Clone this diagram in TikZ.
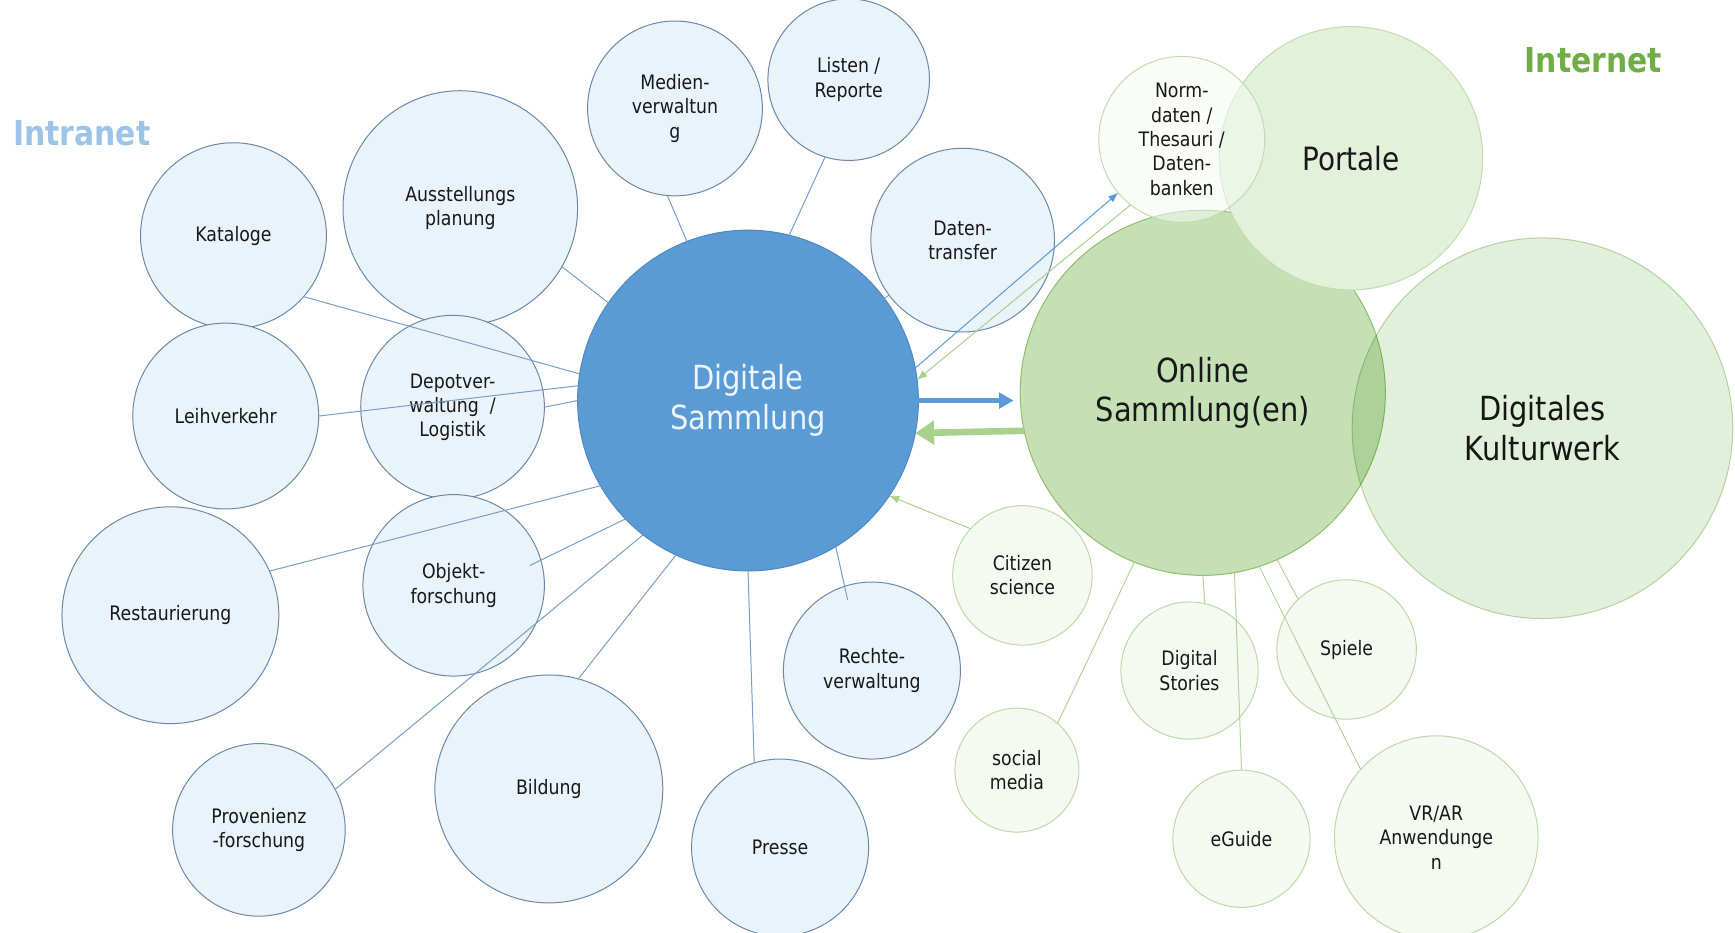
\documentclass[tikz,border=0pt]{standalone}
\usepackage{fontspec}
\setmainfont[FakeStretch=0.87]{DejaVu Sans}
\usetikzlibrary{arrows.meta}

\definecolor{bluefill}{HTML}{EAF2FA}
\definecolor{bluedraw}{HTML}{6A89AA}
\definecolor{bluelink}{HTML}{7A9DC4}
\definecolor{digfill}{HTML}{5B9BD5}
\definecolor{digdraw}{HTML}{4F89BE}
\definecolor{digtext}{HTML}{EEF4FB}
\definecolor{onlfill}{HTML}{C5E0B4}
\definecolor{onldraw}{HTML}{8FBF6E}
\definecolor{porfill}{HTML}{E3F0DA}
\definecolor{pordraw}{HTML}{C2DBB0}
\definecolor{norfill}{HTML}{F6FAF3}
\definecolor{kulfill}{HTML}{E2EFDA}
\definecolor{greenfill}{HTML}{F4F9F1}
\definecolor{greendraw}{HTML}{BDD9A8}
\definecolor{greenlink}{HTML}{B5D49C}
\definecolor{greenarrow}{HTML}{A9D18E}
\definecolor{intranet}{HTML}{9DC3E6}
\definecolor{internet}{HTML}{70AD47}

\begin{document}
\begin{tikzpicture}[x=1pt, y=-1pt,
	bubble/.style={circle, draw=bluedraw, fill=bluefill, line width=0.9pt, inner sep=0pt, outer sep=0pt, align=center, text=black!90, font=\fontsize{18}{22}\selectfont},
	gbubble/.style={bubble, draw=greendraw, fill=greenfill},
	bigbubble/.style={bubble, font=\fontsize{30}{36}\selectfont},
	heading/.style={font=\fontsize{31}{37}\selectfont\bfseries},
	link/.style={bluelink, line width=0.9pt},
	glink/.style={greenlink, line width=0.9pt}]

\useasboundingbox (0,0) rectangle (1568,843);

\node[heading, text=intranet] (intra) at (74,120) {Intranet};
\node[heading, text=internet] (inter) at (1440,54) {Internet};

% intranet
\foreach \n/\x/\y/\d/\t in {
	kat/211/213/168/{Kataloge},
	aus/416/188/212/{Ausstellungs\\planung},
	med/610/98/158/{Medien-\\verwaltun\\g},
	lis/767/72/146/{Listen /\\Reporte},
	dat/870/217/166/{Daten-\\transfer},
	lei/204/376/168/{Leihverkehr},
	dep/409/368/166/{Depotver-\\waltung\ \ /\\Logistik},
	res/154/556/196/{Restaurierung},
	obj/410/529/164/{Objekt-\\forschung},
	pro/234/750/156/{Provenienz\\-forschung},
	bil/496/713/206/{Bildung},
	pre/705/766/160/{Presse},
	rec/788/606/160/{Rechte-\\verwaltung}}
	\node[bubble, minimum size=\d] (\n) at (\x,\y) {\t};

\node[bigbubble, fill=digfill, draw=digdraw, text=digtext, minimum size=308] (dig) at (676,362) {Digitale\\Sammlung};

% internet
\node[bigbubble, fill=onlfill, draw=onldraw, minimum size=330] (onl) at (1087,355) {Online\\Sammlung(en)};
\node[bigbubble, fill=porfill, draw=pordraw, minimum size=238, font=\fontsize{29}{35}\selectfont] (por) at (1221,143) {Portale};
\node[bubble, fill=norfill, fill opacity=0.55, text opacity=1, draw=pordraw, minimum size=150] (nor) at (1068,126) {Norm-\\daten /\\Thesauri /\\Daten-\\banken};
\begin{scope}[blend mode=multiply]
\node[bigbubble, fill=kulfill, draw=pordraw, minimum size=344] (kul) at (1394,387) {Digitales\\Kulturwerk};
\end{scope}

\foreach \n/\x/\y/\d/\t in {
	cit/924/520/126/{Citizen\\science},
	soc/919/696/112/{social\\media},
	dst/1075/606/124/{Digital\\Stories},
	spi/1217/587/126/{Spiele},
	egu/1122/758/124/{eGuide},
	vra/1298/757/184/{VR/AR\\Anwendunge\\n}}
	\node[gbubble, minimum size=\d] (\n) at (\x,\y) {\t};

% links
\draw[link] (kat.-41) -- (dig.171);
\draw[link] (aus.-30) -- (dig.145);
\draw[link] (med.265) -- (dig.111);
\draw[link] (lis.253) -- (dig.76);
\draw[link] (dat) -- (dig);
\draw[link] (lei.0) -- (dig.175);
\draw[link] (dep.east) -- (dig.west);
\draw[link] (res.24) -- (dig.210);
\draw[link] ([shift={(69,-18)}]obj.center) -- (dig.224);
\draw[link] (pro.28) -- (dig.232);
\draw[link] (bil.75) -- (dig.245);
\draw[link] (pre.107) -- (dig.270);
\draw[link] ([shift={(-22,-64)}]rec.center) -- (dig.301);

\draw[glink] (soc.49) -- (onl.248);
\draw[glink] (dst.77) -- (onl.270);
\draw[glink] (egu.90) -- (onl.280);
\draw[glink] (vra.138) -- (onl.288);
\draw[glink] (spi.134) -- (onl.294);
\draw[glink, greenarrow, -{Latex[length=9pt,width=7pt]}] (cit.138) -- (dig.326);

% arrows
\draw[link, digfill, -{Latex[length=9pt,width=7pt]}] (dig.11) -- (nor.220);
\draw[glink, greenarrow, -{Latex[length=9pt,width=7pt]}] (nor.232) -- (dig.7);
\draw[digfill, line width=4pt, -{Triangle[length=13pt,width=14pt]}, shorten >=6pt] (dig.east) -- (dig.east -| onl.west);
\draw[greenarrow, line width=6pt, -{Triangle[length=17pt,width=21pt]}] (onl.192) -- (dig.-11);

\end{tikzpicture}
\end{document}
